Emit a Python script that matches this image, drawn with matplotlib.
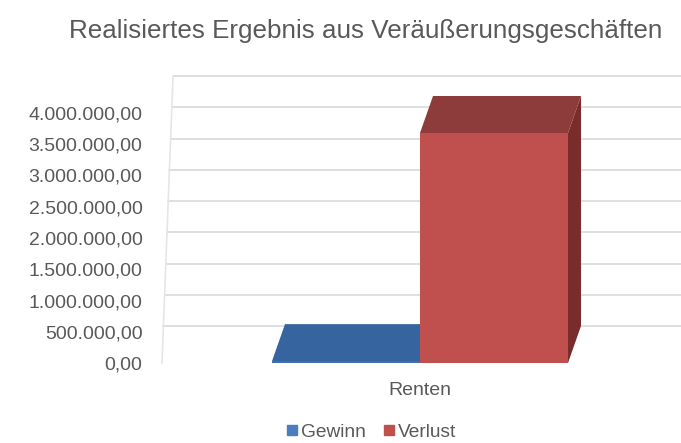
import matplotlib
matplotlib.use("Agg")
import matplotlib.pyplot as plt
from matplotlib.patches import Polygon
from matplotlib.lines import Line2D
from matplotlib.ticker import FuncFormatter

plt.rcParams['font.family'] = ['Liberation Sans', 'DejaVu Sans']

# ---- data ----
title = "Realisiertes Ergebnis aus Veräußerungsgeschäften"
categories = ["Renten"]
series_names = ["Gewinn", "Verlust"]
gewinn = [30000]
verlust = [3680000]
y_ticks = [0, 500000, 1000000, 1500000, 2000000, 2500000, 3000000, 3500000, 4000000]

# ---- style ----
front_colors = ["#3e6fae", "#c0504d"]
top_colors = ["#36649f", "#8e3b3b"]
side_colors = ["#2d527f", "#7a2c2c"]
legend_colors = ["#4a7ebf", "#c0504d"]
text_color = "#595959"
grid_color = "#d9d9d9"

W, H = 681, 443
fig = plt.figure(figsize=(W / 100, H / 100), dpi=100)
fig.patch.set_facecolor("white")

px_per_val = 62.5 / 1e6      # pixels per value unit
px_per_x = 148.0            # pixels per bar width
x0_px, y0_px = 420, 363     # pixel position of category center / zero (from top)
left_px, top_px = 162, 70

ax = fig.add_axes([left_px / W, (H - y0_px) / H, (W - left_px) / W, (y0_px - top_px) / H])
ax.set_xlim(-(x0_px - left_px) / px_per_x, (W - x0_px) / px_per_x)
ax.set_ylim(0, (y0_px - top_px) / px_per_val)
for s in ax.spines.values():
    s.set_visible(False)

depth_x = 13 / px_per_x
depth_y = 37 / px_per_val
xmin = ax.get_xlim()[0]
xmax = ax.get_xlim()[1]
ytop = y_ticks[-1] + depth_y

# back wall gridlines and left wall edge
for v in y_ticks:
    yb = v + depth_y
    xs = xmin + depth_x * 0.85 * yb / ytop
    ax.plot([xs, xmax], [yb, yb], color=grid_color, lw=1.2, zorder=1, clip_on=False)
ax.plot([xmin, xmin + depth_x * 0.85], [0, ytop], color="#e6e6e6", lw=1.2, zorder=1, clip_on=False)

# bars (front faces) via ax.bar, plus 3D top/side faces
values = [gewinn[0], verlust[0]]
offsets = [-0.5, 0.5]
for i, (name, val) in enumerate(zip(series_names, values)):
    xc = offsets[i]
    z = 2 + i * 3
    ax.bar([xc], [val], width=1.0, color=front_colors[i], zorder=z + 2, edgecolor="none")
    l, r = xc - 0.5, xc + 0.5
    top = Polygon([(l, val), (r, val), (r + depth_x, val + depth_y), (l + depth_x, val + depth_y)],
                  closed=True, facecolor=top_colors[i], edgecolor="none", zorder=z + 1)
    side = Polygon([(r, 0), (r + depth_x, depth_y), (r + depth_x, val + depth_y), (r, val)],
                   closed=True, facecolor=side_colors[i], edgecolor="none", zorder=z)
    ax.add_patch(top)
    ax.add_patch(side)

# axes ticks
ax.set_yticks(y_ticks)
def de_fmt(v, pos):
    s = f"{v:,.2f}"
    return s.replace(",", "X").replace(".", ",").replace("X", ".")
ax.yaxis.set_major_formatter(FuncFormatter(de_fmt))
ax.tick_params(axis="y", length=0, pad=14, labelsize=14, labelcolor=text_color)
ax.set_xticks([0])
ax.set_xticklabels(categories)
ax.tick_params(axis="x", length=0, pad=14, labelsize=14, labelcolor=text_color)

fig.text(0.537, 0.93, title, ha="center", va="center", fontsize=18.7, color=text_color)

handles = [Line2D([], [], marker="s", linestyle="none", markersize=7, color=c) for c in legend_colors]
fig.legend(handles, series_names, loc="center", bbox_to_anchor=(0.545, 0.025), ncol=2, frameon=False,
           fontsize=13.8, labelcolor=text_color, handlelength=0.6, handletextpad=0.15, columnspacing=0.9)

fig.savefig("out.png", dpi=100, facecolor="white")
